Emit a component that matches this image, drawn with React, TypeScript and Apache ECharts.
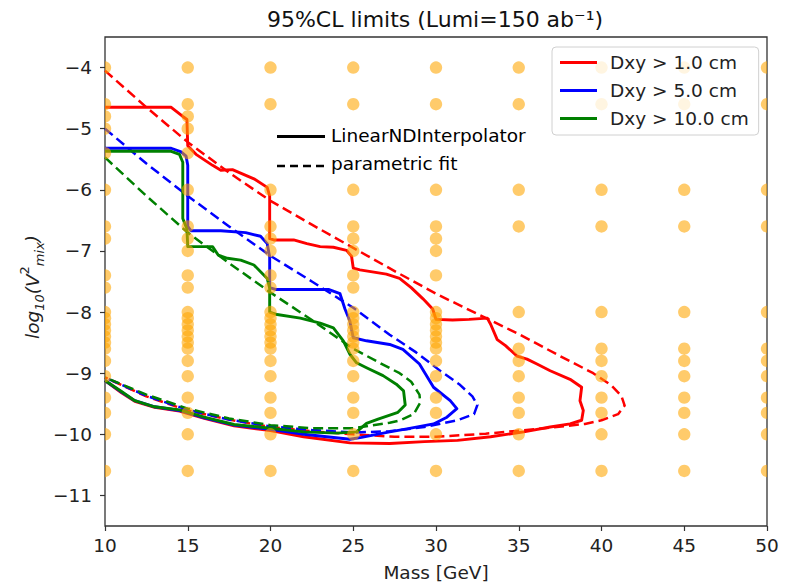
import React, { useEffect, useRef } from 'react';
import * as echarts from 'echarts';

const FONT = 'DejaVu Sans';

// x ticks / y ticks
const xTicks = [10, 15, 20, 25, 30, 35, 40, 45, 50];
const yTicks = [-11, -10, -9, -8, -7, -6, -5, -4];

// Simulated grid points (log10 V^2) per mass column
const dense = [-8, -8.1, -8.2, -8.3, -8.4, -8.5, -8.6, -8.8];
const gridM10 = [-4, -4.6, -4.8, -5, -5.4, -6, -6.6, -6.8, -7.4, -7.6, ...dense, -9.05, -9.4, -9.65, -10, -10.6];
const gridM15 = [-4, -4.6, -4.8, -5, -5.4, -6, -6.6, -6.8, -7, -7.4, -7.6, ...dense, -9.05, -9.4, -9.65, -10, -10.6];
const gridM20 = [-4, -4.6, -6, -6.6, -6.8, -7, -7.4, -7.6, ...dense, -9.05, -9.4, -9.65, -10, -10.6];
const gridM25 = [-4, -4.6, -6, -6.6, -6.8, -7, -7.4, -7.6, ...dense, -9.05, -9.4, -9.65, -10, -10.6];
const gridM30 = [-4, -4.6, -6, -6.6, -6.8, -7, -7.4, ...dense, -9.05, -9.4, -9.65, -10, -10.6];
const gridHigh = [-4, -4.6, -6, -6.6, -8, -8.6, -8.8, -9.05, -9.4, -9.65, -10, -10.6];
const gridColumns: [number, number[]][] = [
  [10, gridM10], [15, gridM15], [20, gridM20], [25, gridM25], [30, gridM30],
  [35, gridHigh], [40, gridHigh], [45, gridHigh], [50, gridHigh],
];

// LinearNDInterpolator contours
const redSolid = [
  [10, -4.65], [14.0, -4.65], [14.7, -4.8], [14.95, -4.85], [15.0, -5.28], [15.5, -5.42], [16.5, -5.6], [17.0, -5.68],
  [17.7, -5.67], [19.0, -5.82], [19.8, -5.96], [19.95, -6.1], [19.95, -6.8], [20.2, -6.82], [21.4, -6.82], [22.2, -6.88],
  [23.0, -6.93], [23.8, -6.94], [24.6, -6.99], [24.9, -7.09], [25.0, -7.28], [25.4, -7.31], [27.0, -7.38], [27.8, -7.45],
  [28.5, -7.6], [29.2, -7.78], [29.8, -7.95], [30.0, -8.12], [31, -8.13], [32, -8.12], [33.1, -8.1], [33.3, -8.2],
  [33.7, -8.45], [34.2, -8.55], [34.9, -8.72], [35.5, -8.77], [36.1, -8.85], [36.9, -8.96], [38.1, -9.1], [38.8, -9.23],
  [38.7, -9.45], [38.9, -9.61], [38.8, -9.77], [38.1, -9.83], [36.9, -9.88], [35.3, -9.96], [33.3, -10.04], [31.3, -10.1],
  [29.3, -10.12], [27.2, -10.15], [24.8, -10.14], [22, -10.04], [20, -9.94], [17.8, -9.86], [16, -9.74], [14.5, -9.62],
  [13, -9.56], [11.8, -9.46], [11, -9.32], [10, -9.12],
];
const blueSolid = [
  [10, -5.32], [14.0, -5.32], [14.6, -5.38], [14.9, -5.45], [15.0, -5.6], [15.0, -6.6], [15.2, -6.67], [17, -6.67],
  [18.5, -6.7], [19.4, -6.76], [19.8, -6.88], [19.95, -7.1], [19.95, -7.6], [20.3, -7.63], [23.5, -7.63], [24.2, -7.7],
  [24.5, -7.95], [24.8, -8.15], [25.0, -8.42], [25.8, -8.47], [27.2, -8.53], [28.0, -8.61], [29.0, -8.85], [29.85, -9.23],
  [30.86, -9.45], [31.26, -9.58], [30.66, -9.72], [29.85, -9.83], [28.24, -9.91], [27.2, -9.96], [25.5, -10.05],
  [24.8, -10.08], [22, -10.0], [20, -9.92], [17.8, -9.85], [16, -9.73], [14.5, -9.61], [13, -9.55], [11.8, -9.45],
  [11, -9.31], [10, -9.12],
];
const greenSolid = [
  [10, -5.37], [14.0, -5.37], [14.5, -5.42], [14.7, -5.55], [14.7, -6.47], [14.95, -6.64], [15.0, -6.93], [16.5, -6.93],
  [16.85, -7.07], [17.4, -7.12], [18.2, -7.15], [19.0, -7.23], [19.8, -7.45], [19.95, -7.61], [19.95, -8.0], [20.4, -8.04],
  [21.8, -8.1], [23.0, -8.18], [23.8, -8.26], [24.4, -8.47], [24.8, -8.69], [25.2, -8.83], [25.8, -8.91], [26.8, -9.04],
  [27.6, -9.18], [28.04, -9.29], [28.14, -9.52], [27.7, -9.64], [26.5, -9.75], [25.8, -9.82], [25.2, -9.96], [24, -9.98],
  [22, -9.96], [20, -9.9], [17.8, -9.84], [16, -9.72], [14.5, -9.6], [13, -9.55], [11.8, -9.45], [11, -9.3], [10, -9.12],
];

// parametric fits
const redFit = [
  [10, -4.05], [12.5, -4.65], [15, -5.22], [17.5, -5.72], [20, -6.18], [22.5, -6.57], [25, -6.95], [27.5, -7.33],
  [30, -7.7], [32.5, -8.03], [35, -8.36], [37.5, -8.72], [39.5, -9.0], [40.6, -9.2], [41.2, -9.37], [41.4, -9.53],
  [41.0, -9.67], [40.0, -9.77], [39.0, -9.83], [37, -9.89], [35, -9.94], [33, -9.99], [30, -10.04], [27.5, -10.04],
  [25, -10.0], [22.5, -9.95], [20, -9.88], [17.5, -9.76], [15, -9.61], [12.5, -9.38], [10, -9.07],
];
const blueFit = [
  [10, -5.0], [12.5, -5.57], [15, -6.1], [17.5, -6.6], [20, -7.08], [22.5, -7.5], [25, -7.93], [27.2, -8.37],
  [28.8, -8.66], [30.25, -8.96], [31.4, -9.18], [32.2, -9.38], [32.5, -9.52], [32.3, -9.67], [31.3, -9.77],
  [29.3, -9.88], [27.2, -9.95], [25, -9.97], [22.5, -9.93], [20, -9.87], [17.5, -9.76], [15, -9.6], [12.5, -9.37],
  [10, -9.07],
];
const greenFit = [
  [10, -5.47], [12.5, -6.1], [15, -6.7], [17.5, -7.2], [20, -7.68], [22.5, -8.13], [25, -8.6], [26.8, -8.86],
  [27.8, -9.0], [28.5, -9.14], [29.0, -9.35], [29.05, -9.48], [28.65, -9.67], [27.85, -9.77], [27.2, -9.81],
  [25, -9.9], [22.5, -9.9], [20, -9.85], [17.5, -9.74], [15, -9.58], [12.5, -9.35], [10, -9.07],
];

const seriesNames = ['Dxy > 1.0 cm', 'Dxy > 5.0 cm', 'Dxy > 10.0 cm'];
const seriesColors = ['#ff0000', '#0000ff', '#008000'];

const fmt = (v: number) => (v < 0 ? '\u2212' + Math.abs(v) : String(v));

export default function App() {
  const ref = useRef<HTMLDivElement>(null);
  useEffect(() => {
    if (!ref.current) return;
    const chart = echarts.init(ref.current, undefined, { renderer: 'svg' });
    const gridData = gridColumns.flatMap(([m, vals]) => vals.map((v) => [m, v]));
    const solids = [redSolid, blueSolid, greenSolid];
    const fits = [redFit, blueFit, greenFit];
    const lineSeries: any[] = [];
    fits.forEach((d, i) => {
      lineSeries.push({
        name: 'fit ' + seriesNames[i],
        type: 'line',
        data: d,
        symbol: 'none',
        lineStyle: { color: seriesColors[i], width: 2.5, type: [10, 5], join: 'round' },
        itemStyle: { color: seriesColors[i] },
        z: 2,
      });
    });
    solids.forEach((d, i) => {
      lineSeries.push({
        name: seriesNames[i],
        type: 'line',
        data: d,
        symbol: 'none',
        lineStyle: { color: seriesColors[i], width: 2.9, join: 'round' },
        itemStyle: { color: seriesColors[i] },
        z: 2,
      });
    });
    const yNameRich = {
      i: { fontSize: 18.5, fontFamily: FONT, fontStyle: 'italic', fill: '#222', lineHeight: 28, verticalAlign: 'middle' },
      n: { fontSize: 13, fontFamily: FONT, fontStyle: 'italic', fill: '#222', lineHeight: 13, verticalAlign: 'bottom' },
      p: { fontSize: 13, fontFamily: FONT, fill: '#222', lineHeight: 13, verticalAlign: 'top' },
      s: { fontSize: 13, fontFamily: FONT, fontStyle: 'italic', fill: '#222', lineHeight: 13, verticalAlign: 'bottom' },
    };
    const option: any = {
      animation: false,
      backgroundColor: '#ffffff',
      grid: {
        left: 105, top: 37, width: 662, height: 492,
        show: true, borderColor: '#333', borderWidth: 1.3, backgroundColor: 'transparent',
      },
      xAxis: {
        type: 'value', min: 10, max: 50, interval: 5,
        name: 'Mass [GeV]', nameLocation: 'middle', nameGap: 37,
        nameTextStyle: { fontSize: 18.5, fontFamily: FONT, color: '#222' },
        axisLine: { show: false },
        axisTick: { show: true, length: 5, customValues: xTicks, lineStyle: { color: '#333', width: 1.2 } },
        axisLabel: { fontSize: 18.5, fontFamily: FONT, color: '#222', margin: 10, customValues: xTicks, formatter: fmt },
        splitLine: { show: false },
      },
      yAxis: {
        type: 'value', min: -11.5, max: -3.5,
        axisLine: { show: false },
        axisTick: { show: true, length: 5, customValues: yTicks, lineStyle: { color: '#333', width: 1.2 } },
        axisLabel: { fontSize: 18.5, fontFamily: FONT, color: '#222', margin: 13, customValues: yTicks, formatter: fmt },
        splitLine: { show: false },
      },
      legend: {
        data: seriesNames,
        orient: 'vertical',
        left: 552, top: 47, z: 10,
        padding: [6, 10, 7, 8],
        itemWidth: 37, itemHeight: 3, icon: 'rect', itemGap: 9,
        backgroundColor: 'rgba(255,255,255,0.8)',
        borderColor: '#d0d0d0', borderWidth: 1, borderRadius: 4,
        textStyle: { fontSize: 18.5, fontFamily: FONT, color: '#222', lineHeight: 19, padding: [0, 0, 0, 8] },
      },
      graphic: [
        {
          type: 'text', x: 435, y: 19, z: 10,
          style: { text: '95%CL limits (Lumi=150 ab\u207B\u00B9)', fontSize: 22, fontFamily: FONT, fill: '#111', align: 'center', verticalAlign: 'middle' },
        },
        {
          type: 'text', x: 32, y: 339, rotation: Math.PI / 2, z: 10,
          style: {
            text: '{i|log}{n|10}{i|(V}{p|2}{s|mix}{i|)}',
            rich: yNameRich, align: 'left', verticalAlign: 'middle',
            fontSize: 18.5, fontFamily: FONT, fill: '#222',
          },
        },
        { type: 'line', z: 10, shape: { x1: 277, y1: 136.5, x2: 325, y2: 136.5 }, style: { stroke: '#000', lineWidth: 2.8 } },
        {
          type: 'text', x: 331, y: 135, z: 10,
          style: { text: 'LinearNDInterpolator', fontSize: 18.5, fontFamily: FONT, fill: '#000', verticalAlign: 'middle' },
        },
        { type: 'line', z: 10, shape: { x1: 277, y1: 166, x2: 325, y2: 166 }, style: { stroke: '#000', lineWidth: 2.4, lineDash: [8, 5] } },
        {
          type: 'text', x: 331, y: 163, z: 10,
          style: { text: 'parametric fit', fontSize: 18.5, fontFamily: FONT, fill: '#000', verticalAlign: 'middle' },
        },
      ],
      series: [
        ...lineSeries,
        {
          name: 'grid points',
          type: 'custom',
          data: gridData,
          encode: { x: 0, y: 1 },
          clip: true,
          z: 3,
          renderItem: (params: any, api: any) => {
            const p = api.coord([api.value(0), api.value(1)]);
            return {
              type: 'circle',
              shape: { cx: p[0], cy: p[1], r: 6.2 },
              style: { fill: 'rgba(255,165,0,0.58)' },
            };
          },
        },
      ],
    };
    chart.setOption(option);
    return () => chart.dispose();
  }, []);
  return <div ref={ref} style={{ position: 'fixed', left: 0, top: 0, width: 788, height: 587 }} />;
}
